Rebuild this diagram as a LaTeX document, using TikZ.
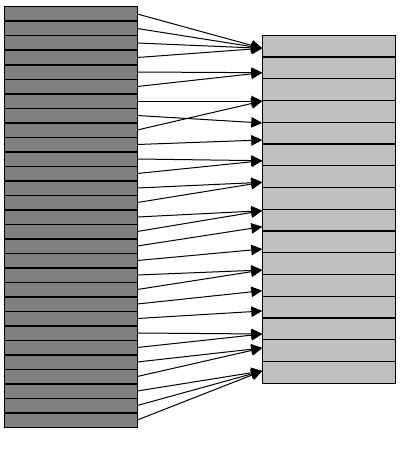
\documentclass[tikz,border=0pt]{standalone}
\usepackage{tikz}
\usetikzlibrary{arrows.meta}
\usetikzlibrary{positioning}
\definecolor{srcgray}{RGB}{128,128,128}
\definecolor{dstgray}{RGB}{192,192,192}
\tikzstyle{every node}+=[inner sep=0pt, outer sep=0pt]
\tikzstyle{srccell} = [rectangle, draw, fill=srcgray, line width=1.5pt, minimum width=132.8pt, minimum height=14.5pt]
\tikzstyle{dstcell} = [rectangle, draw, fill=dstgray, line width=1.2pt, minimum width=133.4pt, minimum height=21.75pt]
\tikzstyle{line} = [draw, line width=1pt, -{Triangle[length=11pt,width=10.5pt]}]

\begin{document}
\begin{tikzpicture}[x=1pt, y=-1pt]
          \useasboundingbox (0,0) rectangle (402,460);
          % Place nodes
          \node [srccell] (s1) at (70.9,14) {};
          \foreach \i [evaluate=\i as \j using int(\i-1)] in {2,...,29}
            \node [srccell, below=0pt of s\j] (s\i) {};
          \node [dstcell] (d1) at (329,46.2) {};
          \foreach \i [evaluate=\i as \j using int(\i-1)] in {2,...,16}
            \node [dstcell, below=0pt of d\j] (d\i) {};
          % Arrow ends on the left side of the right column
          \foreach \k/\y in {1/48.3, 2/72.7, 3/101, 4/123, 5/140, 6/160.7, 7/182.3, 8/210.7,
                             9/226.7, 10/249, 11/270, 12/290.7, 13/311, 14/334, 15/348, 16/371}
            \coordinate (t\k) at (262.3,\y);
          % Draw edges
          \foreach \s/\t in {1/1, 2/1, 3/1, 4/1, 5/2, 6/2, 7/3, 8/4, 9/3, 10/5, 11/6, 12/6,
                             13/7, 14/7, 15/8, 16/8, 17/9, 18/10, 19/11, 20/11, 21/12, 22/13,
                             23/14, 24/14, 25/15, 26/15, 27/16, 28/16, 29/16}
            \path [line] (s\s.east) -- (t\t);
        \end{tikzpicture}
\end{document}
